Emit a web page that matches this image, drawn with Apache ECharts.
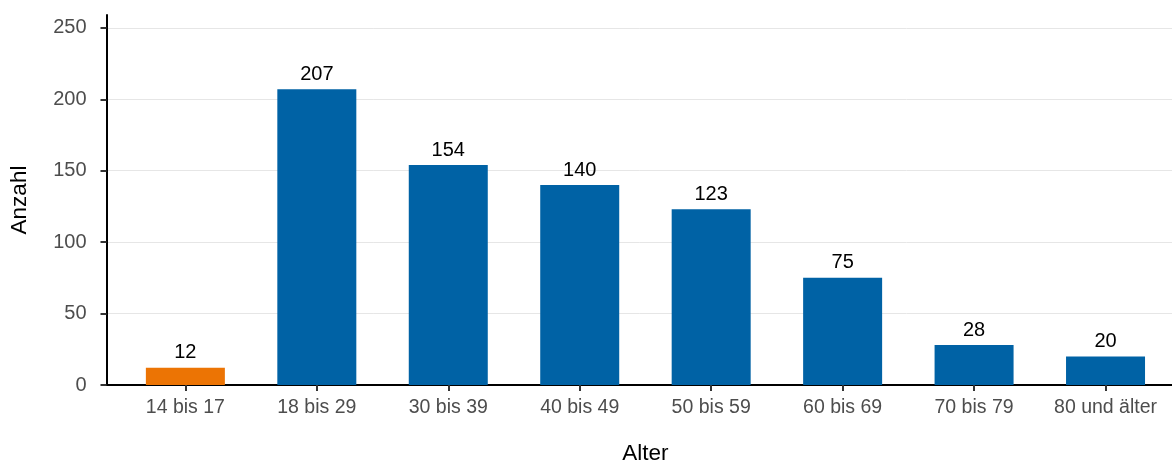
<!DOCTYPE html>
<html>
<head>
<meta charset="utf-8">
<script src="https://cdn.jsdelivr.net/npm/echarts@6/dist/echarts.min.js"></script>
<style>
html,body{margin:0;padding:0;background:#fff;}
#chart{width:1172px;height:461px;}
</style>
</head>
<body>
<div id="chart"></div>
<script>
const categories = ['14 bis 17', '18 bis 29', '30 bis 39', '40 bis 49', '50 bis 59', '60 bis 69', '70 bis 79', '80 und älter'];
const values = [12, 207, 154, 140, 123, 75, 28, 20];
const yTicks = [0, 50, 100, 150, 200, 250];
const highlightIndex = 0;

const BLUE = '#0062a5';
const ORANGE = '#ec7404';
const FONT = 'Liberation Sans, Arial, sans-serif';

const positions = categories.map((c, i) => i + 1);
const data = values.map((v, i) => ({
  value: [positions[i], v],
  itemStyle: { color: i === highlightIndex ? ORANGE : BLUE }
}));

const chart = echarts.init(document.getElementById('chart'), null, { renderer: 'canvas' });
chart.setOption({
  animation: false,
  backgroundColor: '#ffffff',
  grid: { left: 106.5, right: -12.4, top: 15, bottom: 76, containLabel: false, outerBoundsMode: 'none' },
  xAxis: {
    type: 'value',
    min: 0.4,
    max: 8.6,
    name: 'Alter',
    nameLocation: 'middle',
    nameGap: 57,
    nameTextStyle: { color: '#000', fontSize: 22.5, fontFamily: FONT },
    axisLine: { show: true, onZero: false, lineStyle: { color: '#000', width: 2 } },
    axisTick: { show: true, customValues: positions, length: 6, lineStyle: { color: '#333', width: 2 } },
    axisLabel: {
      customValues: positions,
      formatter: v => categories[Math.round(v) - 1],
      color: '#4d4d4d', fontSize: 19.5, fontFamily: FONT, margin: 13
    },
    splitLine: { show: false }
  },
  yAxis: {
    type: 'value',
    min: 0,
    max: 259,
    name: 'Anzahl',
    nameLocation: 'middle',
    nameGap: 75,
    nameRotate: 90,
    nameTextStyle: { color: '#000', fontSize: 22.5, fontFamily: FONT },
    axisLine: { show: true, onZero: false, lineStyle: { color: '#000', width: 2 } },
    axisTick: { show: true, customValues: yTicks, length: 6, lineStyle: { color: '#333', width: 2 } },
    axisLabel: { customValues: yTicks, color: '#4d4d4d', fontSize: 20, fontFamily: FONT, margin: 20 },
    splitLine: { show: true, lineStyle: { color: '#e6e6e6', width: 1 } }
  },
  series: [{
    type: 'bar',
    data: data,
    barWidth: 79,
    label: {
      show: true,
      position: 'top',
      distance: 5,
      color: '#000',
      fontSize: 20,
      fontFamily: FONT
    }
  }]
});
</script>
</body>
</html>
